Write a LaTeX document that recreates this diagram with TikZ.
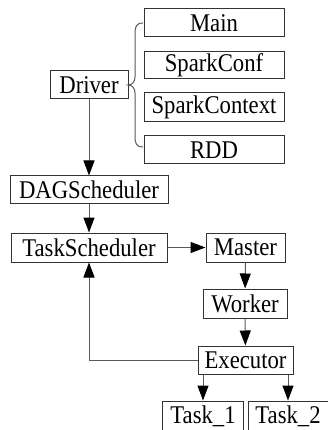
\documentclass[tikz,border=0pt]{standalone}
\usepackage{fontspec}
\setmainfont{Liberation Serif}[FakeStretch=0.89]
\usetikzlibrary{arrows.meta}
\begin{document}
\begin{tikzpicture}[x=1pt,y=-1pt,
  box/.style={draw=black!80,line width=1pt,inner sep=0pt,fill=white,
    font=\fontsize{25.5}{27}\selectfont},
  conn/.style={draw=black!65,line width=1pt,
    -{Triangle[length=15pt,width=11pt,color=black]}},
  plain/.style={draw=black!65,line width=1pt}]
\useasboundingbox (0,0) rectangle (327,430);
\node[box,minimum width=140pt,minimum height=28pt] (main) at (214,23) {Main};
\node[box,minimum width=140pt,minimum height=27pt] (conf) at (214,65.5) {SparkConf};
\node[box,minimum width=140pt,minimum height=29pt] (ctx) at (214,107.5) {SparkContext};
\node[box,minimum width=140pt,minimum height=28pt] (rdd) at (214,150) {RDD};
\node[box,minimum width=78pt,minimum height=28pt] (driver) at (89,85) {Driver};
\node[box,minimum width=158pt,minimum height=27pt] (dag) at (89,189.5) {DAGScheduler};
\node[box,minimum width=156pt,minimum height=29pt] (ts) at (89,247.5) {TaskScheduler};
\node[box,minimum width=79pt,minimum height=29pt] (master) at (245.5,247.5) {Master};
\node[box,minimum width=84pt,minimum height=29pt] (worker) at (245,303.5) {Worker};
\node[box,minimum width=95pt,minimum height=28pt] (exec) at (245.5,360) {Executor};
\node[box,minimum width=81pt,minimum height=30pt] (t1) at (203,416) {Task\_1};
\node[box,minimum width=80pt,minimum height=30pt] (t2) at (288,416) {Task\_2};
% brace
\draw[plain] (143,23) .. controls (136,23) and (135,27) .. (135,34) -- (135,77)
  .. controls (135,82) and (132,85) .. (128,85)
  .. controls (132,85) and (135,88) .. (135,93) -- (135,136)
  .. controls (135,143) and (136,147) .. (143,147);
% connectors
\draw[conn] (driver) -- (dag);
\draw[conn] (dag) -- (ts);
\draw[conn] (ts) -- (master);
\draw[conn] (master) -- (worker);
\draw[conn] (worker) -- (exec);
\draw[conn] (exec.west) -| (ts.south);
\draw[conn] (exec.south -| t1.north) -- (t1.north);
\draw[conn] (exec.south -| t2.north) -- (t2.north);
\end{tikzpicture}
\end{document}
